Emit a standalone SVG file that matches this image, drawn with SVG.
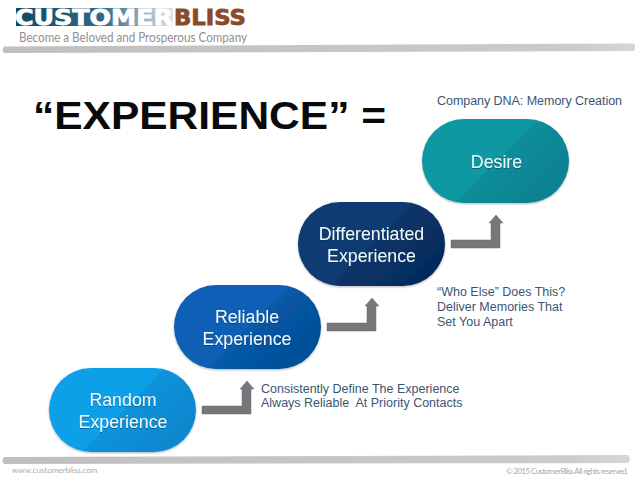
<svg xmlns="http://www.w3.org/2000/svg" width="638" height="479" viewBox="0 0 638 479">
<defs>
<style>
.s{font-family:"Liberation Sans",Arial,sans-serif}
.n{font-size:17.8px;fill:#eef7fa;text-anchor:middle}
.c{font-size:12.5px;fill:#3a5670}
.a{fill:#77777b;stroke:#6a6a6e;stroke-width:.5}
.f{font-family:"Lato","Liberation Sans",sans-serif;font-size:8px;fill:#a9a9a9}
.l{font-family:"DejaVu Sans",sans-serif;font-size:21px;font-weight:700;stroke-width:.8}
</style>
<linearGradient id="g1" x1="0" y1="0" x2="1" y2=".571"><stop offset=".597" stop-color="#109fe8"/><stop offset=".597" stop-color="#0e93da"/><stop offset="1" stop-color="#0c88cf"/></linearGradient>
<linearGradient id="g2" x1="0" y1="0" x2="1" y2=".571"><stop offset=".597" stop-color="#0961b5"/><stop offset=".597" stop-color="#0759a8"/><stop offset="1" stop-color="#054f98"/></linearGradient>
<linearGradient id="g3" x1="0" y1="0" x2="1" y2=".571"><stop offset=".597" stop-color="#0a3a72"/><stop offset=".597" stop-color="#083468"/><stop offset="1" stop-color="#062c5c"/></linearGradient>
<linearGradient id="g4" x1="0" y1="0" x2="1" y2=".571"><stop offset=".597" stop-color="#0b98a2"/><stop offset=".597" stop-color="#088d9a"/><stop offset="1" stop-color="#078293"/></linearGradient>
<linearGradient id="lg"><stop offset="0" stop-color="#0e4a66"/><stop offset=".55" stop-color="#2f6a86"/><stop offset=".8" stop-color="#8fa9bb"/><stop offset="1" stop-color="#dfe7ec"/></linearGradient>
<linearGradient id="bar"><stop offset="0" stop-color="#bfbfbf"/><stop offset=".9" stop-color="#cbcbcb"/><stop offset="1" stop-color="#d6d6d6"/></linearGradient>
<filter id="sh" x="-10%" y="-10%" width="120%" height="125%"><feDropShadow dx="0" dy="1" stdDeviation="1" flood-color="#000" flood-opacity=".3"/></filter>
<filter id="ts" x="-10%" y="-20%" width="120%" height="150%"><feDropShadow dx="0" dy="1" stdDeviation=".6" flood-color="#00304a" flood-opacity=".5"/></filter>
</defs>
<rect width="638" height="479" fill="#fff"/>
<g id="logo">
<rect x="16" y="8" width="157" height="18" fill="url(#lg)"/>
<text class="l" x="15" y="24.500" fill="#fff" stroke="#fff" textLength="158" lengthAdjust="spacingAndGlyphs">CUSTOMER</text>
<text class="l" x="174" y="24.500" fill="#8a4a2b" stroke="#8a4a2b" textLength="72" lengthAdjust="spacingAndGlyphs">BLISS</text>
<text x="19" y="42" font-family="Lato,'Liberation Sans',sans-serif" font-size="12.5" fill="#909090" textLength="228" lengthAdjust="spacingAndGlyphs">Become a Beloved and Prosperous Company</text>
</g>
<path id="top-bar" d="M4 46.500L634 43.500Q636 47 634 51L4 53Q1 50 4 46.500Z" fill="url(#bar)"/>
<text id="title" class="s" x="33" y="128.500" font-size="38" font-weight="700" fill="#0a0a0a" textLength="353" lengthAdjust="spacingAndGlyphs">“EXPERIENCE” =</text>
<g id="connectors">
<path id="arrow1" class="a" d="M202 406H242V389H240L247 381L254 389H251V414H202Z"/>
<path id="arrow2" class="a" d="M327 323H367V306H365L372 298L379 306H376V331H327Z"/>
<path id="arrow3" class="a" d="M451 240H491V223H489L496 215L503 223H500V248H451Z"/>
</g>
<g id="random"><rect x="49" y="368" width="147" height="84" rx="42" fill="url(#g1)" filter="url(#sh)"/><text class="s n" filter="url(#ts)"><tspan x="123" y="406">Random</tspan><tspan x="123" y="428">Experience</tspan></text></g>
<g id="reliable"><rect x="174" y="285" width="147" height="84" rx="42" fill="url(#g2)" filter="url(#sh)"/><text class="s n" filter="url(#ts)"><tspan x="247" y="323">Reliable</tspan><tspan x="247" y="345">Experience</tspan></text></g>
<g id="differentiated"><rect x="298" y="202" width="147" height="84" rx="42" fill="url(#g3)" filter="url(#sh)"/><text class="s n" filter="url(#ts)"><tspan x="371.500" y="240">Differentiated</tspan><tspan x="371.500" y="262">Experience</tspan></text></g>
<g id="desire"><rect x="422" y="119" width="147" height="84" rx="42" fill="url(#g4)" filter="url(#sh)"/><text class="s n" filter="url(#ts)" x="496.500" y="168">Desire</text></g>
<text id="note-desire" class="s c" x="437" y="105" textLength="185">Company DNA: Memory Creation</text>
<text id="note-diff" class="s c"><tspan x="437" y="296">“Who Else” Does This?</tspan><tspan x="437" y="311">Deliver Memories That</tspan><tspan x="437" y="326">Set You Apart</tspan></text>
<text id="note-rel" class="s c"><tspan x="261" y="393">Consistently Define The Experience</tspan><tspan x="261" y="407">Always Reliable&#160; At Priority Contacts</tspan></text>
<path id="bottom-bar" d="M4 457L628 455Q632 459 628 463L4 464Q1 460.500 4 457Z" fill="url(#bar)"/>
<text id="url" class="f" x="12" y="473">www.customerbliss.com</text>
<text id="copyright" class="f" x="506" y="474" textLength="122">© 2015 CustomerBliss All rights reserved.</text>
</svg>
